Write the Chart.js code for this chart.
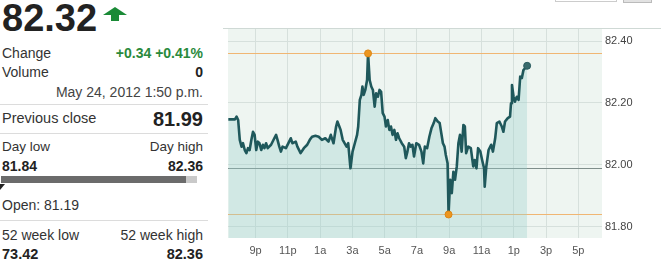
<!DOCTYPE html>
<html><head><meta charset="utf-8">
<script src="https://cdn.jsdelivr.net/npm/chart.js@4"></script>
<style>
html,body{margin:0;padding:0;background:#fff;width:661px;height:261px;overflow:hidden;font-family:"Liberation Sans",Arial,sans-serif;}
#panel{position:absolute;left:0;top:0;width:208px;height:261px;color:#333;}
.t{position:absolute;white-space:nowrap;line-height:1;font-size:14px;}
.l{left:2px;}
.r{right:5px;text-align:right;}
.b{font-weight:bold;color:#222;}
.sep{position:absolute;left:0;width:208px;height:1px;background:#dcdcdc;}
#chartbox{position:absolute;left:223px;top:0;width:438px;height:261px;}
</style></head>
<body>
<div id="panel">
  <div class="t l b" style="top:-1px;font-size:38px;letter-spacing:0px;">82.32</div>
  <svg style="position:absolute;left:103px;top:7px" width="24" height="14" viewBox="0 0 24 14"><polygon points="12,0 24,8 16,8 16,14 8,14 8,8 0,8" fill="#1a8a36"/></svg>
  <div class="t l" style="top:45.6px;">Change</div>
  <div class="t r b" style="top:45.6px;color:#2a8a3c;">+0.34 +0.41%</div>
  <div class="t l" style="top:64.8px;">Volume</div>
  <div class="t r b" style="top:64.8px;">0</div>
  <div class="t r" style="top:84.8px;color:#444;">May 24, 2012 1:50 p.m.</div>
  <div class="sep" style="top:104px;"></div>
  <div class="t l" style="top:111px;font-size:14.5px;">Previous close</div>
  <div class="t r b" style="top:109px;font-size:20px;">81.99</div>
  <div class="sep" style="top:133px;"></div>
  <div class="t l" style="top:139.6px;font-size:13.5px;">Day low</div>
  <div class="t r" style="top:139.6px;font-size:13.5px;">Day high</div>
  <div class="t l b" style="top:159px;font-size:14px;">81.84</div>
  <div class="t r b" style="top:159px;font-size:14px;">82.36</div>
  <div style="position:absolute;left:1px;top:176px;width:185px;height:7px;background:#6b6b6b;"></div>
  <div style="position:absolute;left:186px;top:176px;width:11px;height:7px;background:#c9c9c9;"></div>
  <div style="position:absolute;left:0;top:184px;width:0;height:0;border-top:6px solid #222;border-right:5px solid transparent;"></div>
  <div class="t l" style="top:197.5px;">Open: 81.19</div>
  <div class="sep" style="top:220px;"></div>
  <div class="t l" style="top:227.5px;">52 week low</div>
  <div class="t r" style="top:227.5px;">52 week high</div>
  <div class="t l b" style="top:247px;font-size:14.5px;">73.42</div>
  <div class="t r b" style="top:247px;font-size:14.5px;">82.36</div>
</div>
<div style="position:absolute;left:555px;top:-20px;width:60px;height:20px;border:1px solid #ccc;"></div>
<div style="position:absolute;left:623px;top:-20px;width:27px;height:21px;background:#e2e2e2;border:1px solid #bbb;"></div>
<div id="chartbox"><canvas id="c" width="438" height="261" style="width:438px;height:261px;"></canvas></div>
<script>
// Time in hours on a continuous clock (24 = midnight, 37 = 1 p.m. next day)
const times = [
  19.31,19.72,19.82,19.92,20.02,20.13,20.22,20.33,20.43,20.53,
  20.63,20.74,20.84,20.94,21.04,21.14,21.24,21.35,21.45,21.55,
  21.65,21.75,21.96,22.16,22.27,22.36,22.47,22.57,22.67,22.88,
  23.08,23.18,23.28,23.49,23.59,23.79,23.99,24.20,24.36,24.50,
  24.71,24.91,25.11,25.32,25.52,25.66,25.83,25.99,26.07,26.19,
  26.27,26.40,26.64,26.74,26.88,27.01,27.15,27.29,27.36,27.46,
  27.56,27.62,27.70,27.80,27.91,27.97,28.07,28.17,28.27,28.38,
  28.47,28.58,28.68,28.78,28.88,28.99,29.08,29.19,29.29,29.39,
  29.49,29.60,29.70,29.80,29.90,30.06,30.21,30.31,30.41,30.51,
  30.61,30.72,30.82,30.96,31.13,31.28,31.39,31.49,31.63,31.77,
  31.90,32.04,32.14,32.29,32.41,32.51,32.61,32.71,32.79,32.90,
  32.96,33.06,33.16,33.26,33.36,33.47,33.57,33.67,33.77,33.88,
  33.97,34.05,34.18,34.34,34.49,34.58,34.69,34.79,34.93,35.04,
  35.16,35.20,35.30,35.44,35.60,35.71,35.85,35.95,36.11,36.26,
  36.36,36.46,36.63,36.77,36.83,36.89,36.99,37.07,37.19,37.30,
  37.40,37.50,37.60,37.70,37.83
];
const prices = [
  82.147,82.147,82.156,82.145,82.081,82.059,82.070,82.048,82.038,82.054,
  82.048,82.081,82.107,82.097,82.048,82.075,82.070,82.048,82.065,82.054,
  82.070,82.054,82.065,82.086,82.097,82.081,82.059,82.043,82.059,82.054,
  82.075,82.086,82.070,82.075,82.059,82.038,82.054,82.065,82.081,82.091,
  82.094,82.091,82.081,82.086,82.075,82.097,82.070,82.124,82.140,82.124,
  82.113,82.081,82.059,82.070,81.989,82.043,82.070,82.097,82.124,82.210,
  82.226,82.253,82.226,82.242,82.274,82.360,82.274,82.253,82.242,82.188,
  82.231,82.220,82.242,82.236,82.167,82.156,82.124,82.145,82.113,82.124,
  82.097,82.113,82.081,82.102,82.086,82.070,82.059,82.022,82.043,82.070,
  82.059,82.065,82.027,82.070,82.065,82.043,82.005,82.059,82.054,82.091,
  82.118,82.135,82.151,82.140,82.135,82.102,82.070,82.059,82.032,82.005,
  81.840,81.952,81.909,81.978,81.952,81.995,82.070,82.097,82.043,82.129,
  82.124,82.038,82.059,82.054,81.995,82.016,81.989,82.054,82.043,82.016,
  81.989,81.930,81.995,82.048,82.065,82.043,82.086,82.135,82.140,82.124,
  82.107,82.140,82.151,82.156,82.199,82.258,82.220,82.204,82.220,82.210,
  82.285,82.280,82.306,82.312,82.320
];
const xTickValues = [21,23,25,27,29,31,33,35,37,39,41];
const xTickLabels = ['9p','11p','1a','3a','5a','7a','9a','11a','1p','3p','5p'];
const yTickValues = [81.80,82.00,82.20,82.40];
const yTickLabels = ['81.80','82.00','82.20','82.40'];
const dayHigh = 82.36, dayLow = 81.84, prevClose = 81.99;
const highTime = 27.97, lowTime = 32.96;
const xMin = 19.29, xMax = 42.47, yMin = 81.764, yMax = 82.442;

const series = times.map((t,i)=>({x:t,y:prices[i]}));
const last = series[series.length-1];

const bgPlugin = {
  id:'bg',
  beforeDraw(chart){
    const {ctx, chartArea:a} = chart;
    ctx.save();
    ctx.fillStyle = '#eef5f1';
    ctx.fillRect(a.left, a.top, a.right-a.left, a.bottom-a.top);
    ctx.restore();
  },
  beforeDatasetsDraw(chart){
    const {ctx, chartArea:a} = chart;
    const y = chart.scales.y;
    const refs = [[dayHigh,'#f0b673'],[dayLow,'#f0b673'],[prevClose,'#7f8e8b']];
    ctx.save();
    refs.forEach(([v,c])=>{
      const py = Math.round(y.getPixelForValue(v));
      ctx.fillStyle = c;
      ctx.fillRect(a.left, py, a.right-a.left, 1);
    });
    ctx.restore();
  },
  afterDraw(chart){
    const {ctx, chartArea:a} = chart;
    ctx.save();
    ctx.fillStyle = '#cfd9d5';
    ctx.fillRect(0, a.top, chart.width, 1);
    ctx.restore();
  }
};

const font = {family:'Liberation Sans', size:11};
new Chart(document.getElementById('c'), {
  type:'line',
  data:{datasets:[
    {data:[{x:highTime,y:dayHigh},{x:lowTime,y:dayLow}], order:0, showLine:false,
     pointRadius:3.5, pointBackgroundColor:'#ec961f', pointBorderColor:'#dc8616', pointBorderWidth:1},
    {data:[last], order:0, showLine:false, pointRadius:3.5,
     pointBackgroundColor:'#3a6b6d', pointBorderColor:'#2a5c5f', pointBorderWidth:1},
    {data:series, order:1, borderColor:'#1f585b', borderWidth:2.6, pointRadius:0,
     fill:'start', backgroundColor:'rgba(151,205,204,0.33)', tension:0, borderJoinStyle:'round'}
  ]},
  options:{
    responsive:false, animation:false, maintainAspectRatio:false,
    layout:{padding:{top:28,left:0,right:0,bottom:0}},
    plugins:{legend:{display:false}, tooltip:{enabled:false}},
    scales:{
      x:{type:'linear', min:xMin, max:xMax,
         afterBuildTicks:s=>{s.ticks = xTickValues.map(v=>({value:v}));},
         afterFit:s=>{s.height = 23;},
         grid:{color:'#d6e0dc', drawTicks:false}, border:{display:false},
         ticks:{padding:6, color:'#555', font, autoSkip:false, maxRotation:0,
                callback:(v,i)=>xTickLabels[i]}},
      y:{type:'linear', position:'right', min:yMin, max:yMax,
         afterBuildTicks:s=>{s.ticks = yTickValues.map(v=>({value:v}));},
         afterFit:s=>{s.width = 59;},
         grid:{color:'#d6e0dc', drawTicks:false}, border:{display:false},
         ticks:{padding:3, color:'#444', font, callback:(v,i)=>yTickLabels[i]}}
    }
  },
  plugins:[bgPlugin]
});
</script>
</body></html>
